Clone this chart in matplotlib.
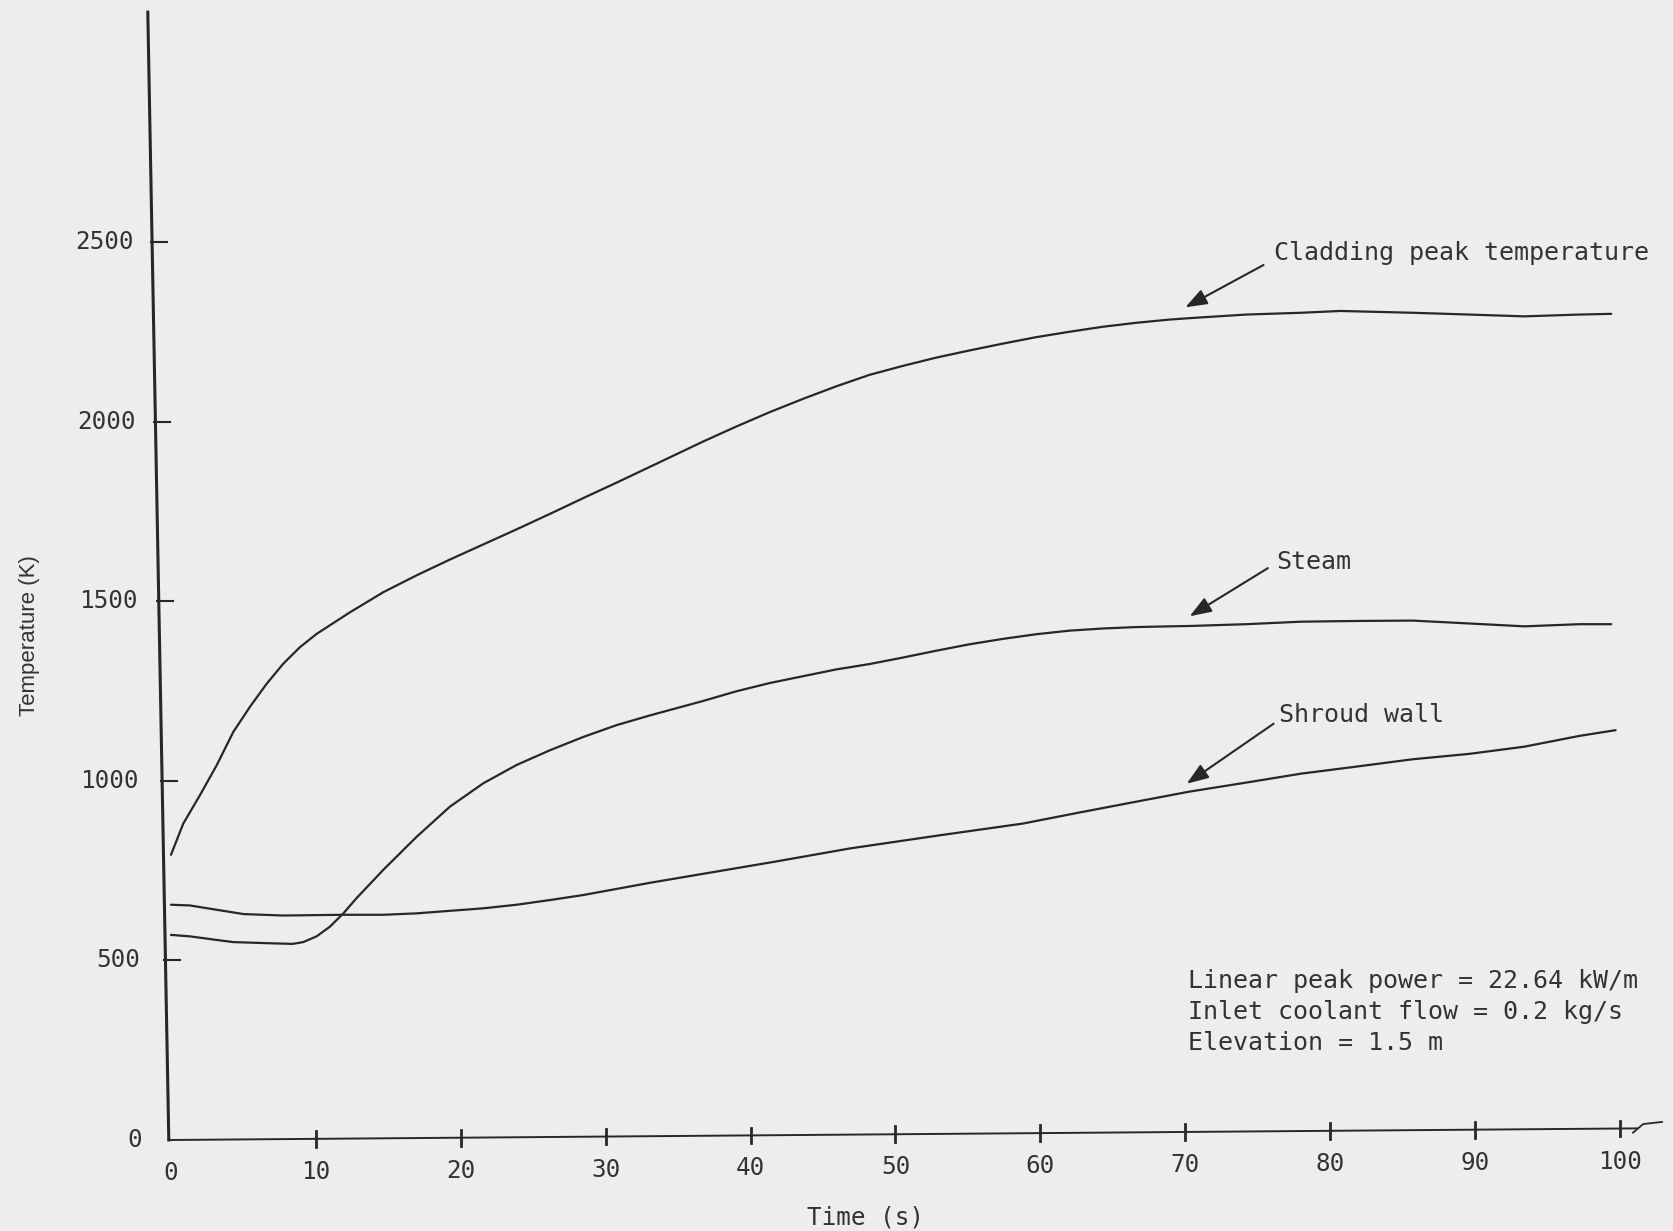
import matplotlib
matplotlib.use('Agg')
import matplotlib.pyplot as plt
from matplotlib import font_manager

# region data
clad_t = [0, 0.85, 2.0, 3.15, 4.3, 5.45, 6.6, 7.75, 8.9, 10.05, 12.35, 14.65, 16.95, 19.25,
          21.55, 23.85, 26.15, 28.45, 30.75, 33.05, 36.7, 39.0, 41.3, 43.6, 45.9, 48.2,
          50.5, 52.8, 55.1, 57.4, 59.7, 62.0, 64.3, 66.6, 68.9, 70.3, 74.2, 78.0, 80.7,
          85.7, 89.6, 93.4, 97.2, 99.4]
clad_T = [794, 881, 960, 1043, 1136, 1206, 1270, 1326, 1372, 1409, 1469, 1525, 1572, 1616,
          1658, 1700, 1743, 1787, 1830, 1874, 1944, 1986, 2026, 2063, 2098, 2130,
          2155, 2178, 2198, 2217, 2235, 2250, 2264, 2275, 2284, 2288, 2298, 2303, 2308,
          2303, 2298, 2293, 2298, 2300]

steam_t = [0, 1.3, 3.15, 4.3, 6.6, 8.4, 9.13, 10.05, 10.97, 11.9, 12.8, 14.65, 16.95, 19.25,
           21.55, 23.85, 26.15, 28.45, 30.75, 33.05, 36.7, 39.0, 41.3, 43.6, 45.9, 48.2,
           50.5, 52.8, 55.1, 57.4, 59.7, 62.0, 64.3, 66.6, 68.9, 70.3, 74.2, 78.0, 81.9,
           85.7, 89.6, 93.4, 97.2, 99.4]
steam_T = [571, 567, 557, 551, 548, 546, 551, 567, 594, 631, 673, 752, 844, 928,
           993, 1044, 1085, 1122, 1155, 1182, 1222, 1249, 1272, 1291, 1310, 1325,
           1343, 1362, 1380, 1395, 1408, 1418, 1424, 1428, 1430, 1431, 1436, 1443, 1445,
           1446, 1438, 1430, 1436, 1436]

shroud_t = [0, 1.3, 3.15, 5.0, 7.75, 11.8, 14.65, 16.95, 19.25, 21.55, 23.85, 26.15, 28.45,
            30.75, 33.05, 41.7, 46.9, 53.0, 58.8, 62.6, 66.5, 70.3, 74.2, 78.0, 81.9,
            85.7, 89.6, 93.4, 97.2, 99.7]
shroud_T = [655, 653, 641, 629, 625, 627, 627, 631, 638, 645, 655, 668, 682,
            699, 716, 775, 812, 848, 881, 911, 941, 970, 995, 1020, 1040,
            1060, 1075, 1095, 1125, 1141]

x_ticks = [0, 10, 20, 30, 40, 50, 60, 70, 80, 90, 100]
y_ticks = [0, 500, 1000, 1500, 2000, 2500]

notes = ["Linear peak power = 22.64 kW/m",
         "Inlet coolant flow = 0.2 kg/s",
         "Elevation = 1.5 m"]
# endregion

INK = '#272727'
TXT = '#333333'
MONO = 'DejaVu Sans Mono'

names = {f.name for f in font_manager.fontManager.ttflist}
if 'Liberation Sans Narrow' in names:
    ylab_font, ylab_size = 'Liberation Sans Narrow', 19
elif 'Liberation Sans' in names:
    ylab_font, ylab_size = 'Liberation Sans', 16
else:
    ylab_font, ylab_size = 'DejaVu Sans', 14


def x_axis_y(x):
    # hand-drawn baseline rises slightly to the right
    return 0.32 * x


def y_axis_x(y):
    # vertical axis leans a little to the left towards the top
    return -0.15 - 1.45 * y / 3140.0


def main():
    fig = plt.figure(figsize=(16.74, 12.31), dpi=100, facecolor='#ededed')
    ax = fig.add_axes([0, 0, 1, 1])
    ax.set_xlim(-11.80, 103.73)
    ax.set_ylim(-253.3, 3173.7)
    ax.axis('off')

    # curves
    for t, T in [(clad_t, clad_T), (steam_t, steam_T), (shroud_t, shroud_T)]:
        ax.plot(t, T, color=INK, lw=1.6, solid_capstyle='round', solid_joinstyle='round')

    # axes lines
    ax.plot([y_axis_x(0), y_axis_x(3140)], [0, 3140], color=INK, lw=2.2)
    ax.plot([y_axis_x(0), 101.2], [0, x_axis_y(101.2)], color=INK, lw=1.4)
    y_end = x_axis_y(101.2)
    ax.plot([100.9, 101.6, 102.9], [y_end - 12, y_end + 12, y_end + 18], color=INK, lw=1.3)

    # y ticks and labels
    for v in y_ticks[1:]:
        xa = y_axis_x(v)
        ax.plot([xa - 0.1, xa + 1.0], [v, v], color=INK, lw=1.5)
    for v in y_ticks:
        lx = -2.0 - 0.56 * v / 2500.0
        ax.text(lx, v, str(v), ha='right', va='center', fontsize=17.5,
                family=MONO, color=TXT)

    # x ticks and labels
    for v in x_ticks[1:]:
        ya = x_axis_y(v)
        ax.plot([v, v], [ya - 22, ya + 22], color=INK, lw=2.0)
    for v in x_ticks:
        ax.text(v, x_axis_y(v) - 92, str(v), ha='center', va='center', fontsize=17.5,
                family=MONO, color=TXT)

    ax.text(47.9, -217, 'Time (s)', ha='center', va='center', fontsize=17.5,
            family=MONO, color=TXT)
    ax.text(-9.75, 1403, 'Temperature (K)', ha='center', va='center', rotation=90,
            fontsize=ylab_size, family=ylab_font, color=TXT)

    # curve labels with arrows
    labels = [('Cladding peak temperature', (76.1, 2470), (75.4, 2436), (70.0, 2318)),
              ('Steam', (76.3, 1610), (75.7, 1592), (70.3, 1458)),
              ('Shroud wall', (76.5, 1184), (76.1, 1159), (70.1, 992))]
    for text, pos, tail, head in labels:
        ax.text(pos[0], pos[1], text, ha='left', va='center', fontsize=18,
                family=MONO, color=TXT)
        ax.annotate('', xy=head, xytext=tail,
                    arrowprops=dict(arrowstyle='-|>,head_length=0.6,head_width=0.22',
                                    color=INK, lw=1.5, mutation_scale=22,
                                    shrinkA=0, shrinkB=0))

    # run conditions
    for i, line in enumerate(notes):
        ax.text(70.2, 442 - 86 * i, line, ha='left', va='center', fontsize=18,
                family=MONO, color=TXT)

    fig.savefig('out.png', dpi=100, facecolor=fig.get_facecolor())


if __name__ == "__main__":
    main()
